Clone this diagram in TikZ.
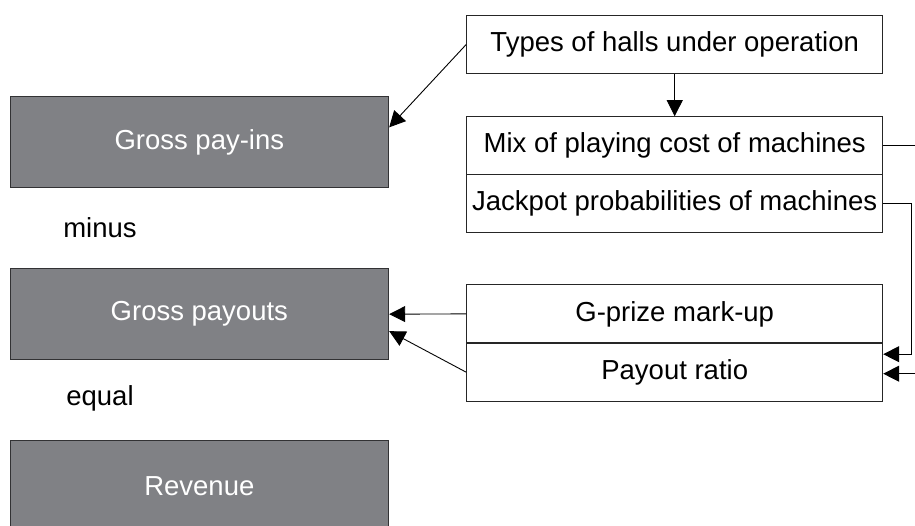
\documentclass[tikz,border=0pt]{standalone}
\usepackage{fontspec}
\setmainfont{Liberation Sans}
\usetikzlibrary{arrows.meta,calc}
\definecolor{boxgray}{RGB}{128,129,133}
\definecolor{edgegray}{RGB}{50,50,52}

\begin{document}
\begin{tikzpicture}[x=1pt, y=-1pt,
	grossbox/.style={draw=edgegray, line width=1pt, fill=boxgray, text=white, minimum width=378.7pt, minimum height=91pt, inner sep=0pt},
	factorbox/.style={draw=black!85, line width=1pt, fill=white, minimum width=416pt, minimum height=57.8pt, inner sep=0pt},
	linkarrow/.style={line width=0.9pt, -{Triangle[length=16pt,width=16pt]}},
	font=\fontsize{27.5}{32}\selectfont]
			%%%%% START %%%%%
			
			\useasboundingbox (0, 0) rectangle (915, 526);
			
			\node[grossbox] (payins) at (199.35, 142.35) {Gross pay-ins};
			\node[grossbox] (payouts) at (199.35, 314.15) {Gross payouts};
			\node[grossbox] (revenue) at (199.35, 486.2) {Revenue};
			
			\node (minus) at (100, 228) {minus};
			\node (equal) at (100, 398) {equal};
			
			\node[factorbox] (types) at (674.7, 44.5) {Types of halls under operation};
			
			\node[factorbox] (mix) at (674.7, 145.6) {Mix of playing cost of machines};
			\node[factorbox] (jackpot) at (674.7, 203.6) {Jackpot probabilities of machines};
			
			\node[factorbox] (gprize) at (674.7, 313.9) {G-prize mark-up};
			\node[factorbox] (payout) at (674.7, 372.2) {Payout ratio};
			
			\draw[linkarrow] (types.west) -- ([yshift=15pt]payins.east);
			\draw[linkarrow] (types.south) -- (mix.north);
			
			\draw[linkarrow] (mix.east) -- (922, 145.6) |- ([yshift=-1.5pt]payout.east);
			\draw[linkarrow] (jackpot.east) -- (911.7, 203.6) |- ([yshift=18pt]payout.east);
			
			\draw[linkarrow] (gprize.west) -- (payouts.east);
			\draw[linkarrow] (payout.west) -- ([yshift=-17pt]payouts.east);
			
			%%%%% END %%%%%
\end{tikzpicture}
\end{document}
